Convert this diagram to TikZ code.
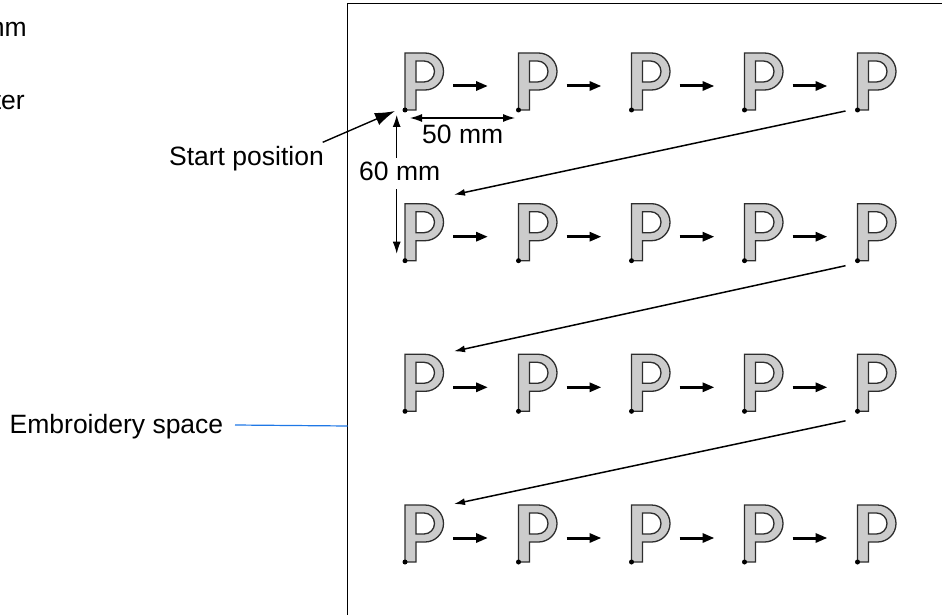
\documentclass[tikz,border=0pt]{standalone}
\usepackage{fontspec}
\setmainfont{Liberation Sans}
\usetikzlibrary{arrows.meta}
\definecolor{pgray}{RGB}{204,204,204}
\definecolor{pedge}{RGB}{45,45,45}
\definecolor{leaderblue}{RGB}{30,120,230}
\tikzset{
  lbl/.style={font=\fontsize{26.5}{31}\selectfont, inner sep=0pt, text=black},
  dotnode/.style={circle, fill=black, inner sep=0pt, minimum size=5pt},
  harrow/.style={line width=3pt, -{Triangle[length=12pt,width=9pt]}},
  darrow/.style={line width=1.5pt, -{Latex[length=11pt,width=7pt]}},
  dimarrow/.style={line width=1.1pt, {Latex[length=12pt,width=8pt]}-{Latex[length=12pt,width=8pt]}},
  onearrow/.style={line width=1.1pt, -{Latex[length=12pt,width=8pt]}},
  framebox/.style={line width=1.3pt, draw=black},
  letterP/.pic={
    \path[fill=pgray, draw=pedge, line width=1.3pt, even odd rule]
      (0,0) -- (0,-57) -- (20,-57)
      .. controls (30.2,-57) and (38.5,-48.7) .. (38.5,-38.5)
      .. controls (38.5,-28.3) and (30.2,-20) .. (20,-20)
      -- (11,-20) -- (11,0) -- cycle
      (11,-49) -- (19,-49)
      .. controls (24.8,-49) and (29.5,-44.3) .. (29.5,-38.5)
      .. controls (29.5,-32.7) and (24.8,-28) .. (19,-28)
      -- (11,-28) -- cycle;
  }
}
\begin{document}
\begin{tikzpicture}[x=1pt, y=-1pt]
\useasboundingbox (0,0) rectangle (942,615);
% frame
\draw[framebox] (347.7,640) -- (347.7,3.3) -- (960,3.3);
\coordinate (frameL) at (347.7,426);
% letters
\foreach \r/\y in {1/110, 2/260.7, 3/411.3, 4/562} {
  \foreach \c/\x in {1/405, 2/518.5, 3/631.5, 4/744.5, 5/857.5} {
    \pic at (\x,\y) {letterP};
    \node[dotnode] (p\r\c) at (\x,\y) {};
  }
}
% horizontal arrows
\foreach \r in {1,2,3,4} {
  \foreach \c/\n in {1/2, 2/3, 3/4, 4/5} {
    \draw[harrow] ([shift={(48,-24)}]p\r\c.center) -- ([shift={(83,-24)}]p\r\c.center);
  }
}
% diagonal arrows
\draw[darrow] ([shift={(-12,1)}]p15.center) -- ([shift={(49,-66)}]p21.center);
\draw[darrow] ([shift={(-12,5)}]p25.center) -- ([shift={(49,-60)}]p31.center);
\draw[darrow] ([shift={(-12,9.5)}]p35.center) -- ([shift={(49,-58)}]p41.center);
% dimensions
\draw[dimarrow] ([shift={(5,8)}]p11.center) -- ([shift={(-3.5,8)}]p12.center);
\node[lbl, anchor=base west] (d50) at (422,143.3) {50 mm};
\draw[onearrow] (396.7,165) -- ([shift={(-8.3,5)}]p11.center);
\draw[onearrow] (396.7,175) -- ([shift={(-8.3,-7)}]p21.center);
\node[lbl, anchor=base west, fill=white, inner xsep=0pt, inner ysep=3pt, text depth=6pt] (d60) at (359,180) {60 mm};
% start position
\node[lbl, anchor=base east] (start) at (324,165.7) {Start position};
\coordinate (startfrom) at (322.7,142.3);
\draw[line width=1.4pt, -{Latex[length=20pt,width=13pt]}] (startfrom) -- ([shift={(-10,1)}]p11.center);
% embroidery space
\node[lbl, anchor=base west] (emb) at (9.5,433) {Embroidery space};
\draw[leaderblue, line width=1.2pt] (235,425) -- (frameL);
% cut-off texts at left
\node[lbl, anchor=base east] (tmm) at (27,37) {mm};
\node[lbl, anchor=base east] (tter) at (25,109.5) {ter};
\end{tikzpicture}
\end{document}
